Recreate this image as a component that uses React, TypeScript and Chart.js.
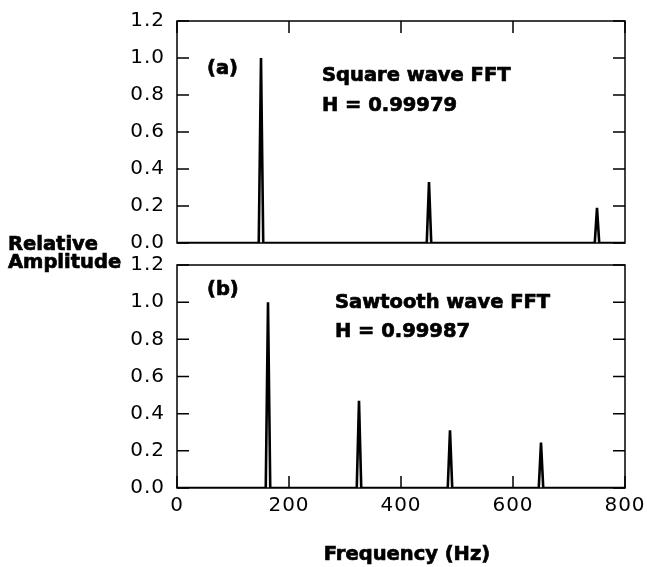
import React, { useEffect, useRef } from "react";
import { Chart, registerables } from "chart.js";

Chart.register(...registerables);

// ---- data ----
const squareFreqs = [150, 450, 750];
const squareAmps = [1.0, 0.33, 0.19];
const sawFreqs = [162.5, 325, 487.5, 650];
const sawAmps = [1.0, 0.47, 0.31, 0.245];
const xTicks = [0, 200, 400, 600, 800];
const yTicks = [0, 0.2, 0.4, 0.6, 0.8, 1.0, 1.2];
const peakHalfWidth = 4;

function spectrum(freqs: number[], amps: number[]) {
  const pts: { x: number; y: number }[] = [{ x: xTicks[0], y: 0 }];
  freqs.forEach((f, i) => {
    pts.push({ x: f - peakHalfWidth, y: 0 }, { x: f, y: amps[i] }, { x: f + peakHalfWidth, y: 0 });
  });
  pts.push({ x: xTicks[xTicks.length - 1], y: 0 });
  return pts;
}

const TICK_FONT = { family: "'DejaVu Sans', sans-serif", size: 20, weight: "normal" as const };

const framePlugin = {
  id: "frame",
  beforeDraw(chart: any) {
    (chart.ctx as any).letterSpacing = "1px";
  },
  afterDraw(chart: any, _args: any, opts: any) {
    const { ctx, chartArea, scales } = chart;
    const { left, right, top, bottom } = chartArea;
    const x = scales.x;
    const y = scales.y;
    ctx.save();
    (ctx as any).letterSpacing = "0px";
    ctx.strokeStyle = "#000";
    ctx.lineWidth = 1.5;
    ctx.strokeRect(left, top, right - left, bottom - top);
    ctx.beginPath();
    yTicks.forEach((v) => {
      const py = y.getPixelForValue(v);
      ctx.moveTo(left, py);
      ctx.lineTo(left + 12, py);
      ctx.moveTo(right, py);
      ctx.lineTo(right - 12, py);
    });
    xTicks.forEach((v) => {
      const px = x.getPixelForValue(v);
      if (opts.side === "top") {
        ctx.moveTo(px, top);
        ctx.lineTo(px, top + 12);
      } else {
        ctx.moveTo(px, bottom);
        ctx.lineTo(px, bottom - 12);
      }
    });
    ctx.stroke();
    ctx.restore();
  },
};

function makeConfig(data: { x: number; y: number }[], panel: "top" | "bottom") {
  const isTop = panel === "top";
  return {
    type: "line" as const,
    data: {
      datasets: [
        {
          data,
          borderColor: "#000",
          borderWidth: 2.6,
          pointRadius: 0,
          tension: 0,
          fill: false,
          borderJoinStyle: "miter" as const,
        },
      ],
    },
    plugins: [framePlugin],
    options: {
      animation: false,
      responsive: true,
      maintainAspectRatio: false,
      devicePixelRatio: 1,
      events: [],
      layout: {
        padding: isTop
          ? { top: 21, right: 22, bottom: 15, left: 0 }
          : { top: 15, right: 22, bottom: 0, left: 0 },
      },
      plugins: {
        legend: { display: false },
        tooltip: { enabled: false },
        frame: { side: isTop ? "top" : "bottom" },
      },
      scales: {
        x: {
          type: "linear",
          min: 0,
          max: 800,
          afterBuildTicks: (s: any) => {
            s.ticks = xTicks.map((v) => ({ value: v }));
          },
          ticks: {
            display: !isTop,
            color: "#000",
            font: TICK_FONT,
            padding: 6,
            maxRotation: 0,
            autoSkip: false,
            callback: (v: any) => String(v),
          },
          grid: { display: false, drawTicks: false },
          border: { display: false },
          afterFit: (s: any) => {
            s.height = isTop ? 0 : 79;
            s.paddingLeft = 0;
            s.paddingRight = 0;
          },
        },
        y: {
          type: "linear",
          min: 0,
          max: 1.2,
          afterBuildTicks: (s: any) => {
            s.ticks = yTicks.map((v) => ({ value: v }));
          },
          ticks: {
            color: "#000",
            font: TICK_FONT,
            padding: 12,
            autoSkip: false,
            callback: (v: any) => Number(v).toFixed(1),
          },
          grid: { display: false, drawTicks: false },
          border: { display: false },
          afterFit: (s: any) => {
            s.width = 177;
            s.paddingTop = 0;
            s.paddingBottom = 0;
          },
        },
      },
    },
  };
}

function Panel({ data, panel, style }: { data: { x: number; y: number }[]; panel: "top" | "bottom"; style: React.CSSProperties }) {
  const ref = useRef<HTMLCanvasElement>(null);
  useEffect(() => {
    if (!ref.current) return;
    const chart = new Chart(ref.current, makeConfig(data, panel) as any);
    return () => chart.destroy();
  }, [data, panel]);
  return (
    <div style={{ position: "absolute", left: 0, width: 647, ...style }}>
      <canvas ref={ref} />
    </div>
  );
}

const squareData = spectrum(squareFreqs, squareAmps);
const sawData = spectrum(sawFreqs, sawAmps);

const boldText: React.CSSProperties = {
  position: "absolute",
  fontFamily: "'DejaVu Sans', sans-serif",
  fontWeight: "bold",
  fontSize: 19.5,
  lineHeight: "19.5px",
  whiteSpace: "nowrap",
  color: "#000",
  WebkitTextStroke: "0.7px #000",
};

export default function App() {
  return (
    <div style={{ position: "absolute", left: 0, top: 0, width: 647, height: 567, background: "#fff", overflow: "hidden" }}>
      <Panel data={squareData} panel="top" style={{ top: 0, height: 258 }} />
      <Panel data={sawData} panel="bottom" style={{ top: 250, height: 317 }} />
      <div style={{ ...boldText, left: 207, top: 58 }}>(a)</div>
      <div style={{ ...boldText, left: 322, top: 65 }}>Square wave FFT</div>
      <div style={{ ...boldText, left: 322, top: 95 }}>H = 0.99979</div>
      <div style={{ ...boldText, left: 207, top: 279 }}>(b)</div>
      <div style={{ ...boldText, left: 335, top: 292 }}>Sawtooth wave FFT</div>
      <div style={{ ...boldText, left: 335, top: 321 }}>H = 0.99987</div>
      <div style={{ ...boldText, left: 8, top: 234 }}>Relative</div>
      <div style={{ ...boldText, left: 8, top: 252 }}>Amplitude</div>
      <div style={{ ...boldText, left: 307, width: 200, textAlign: "center", top: 544 }}>Frequency (Hz)</div>
    </div>
  );
}
